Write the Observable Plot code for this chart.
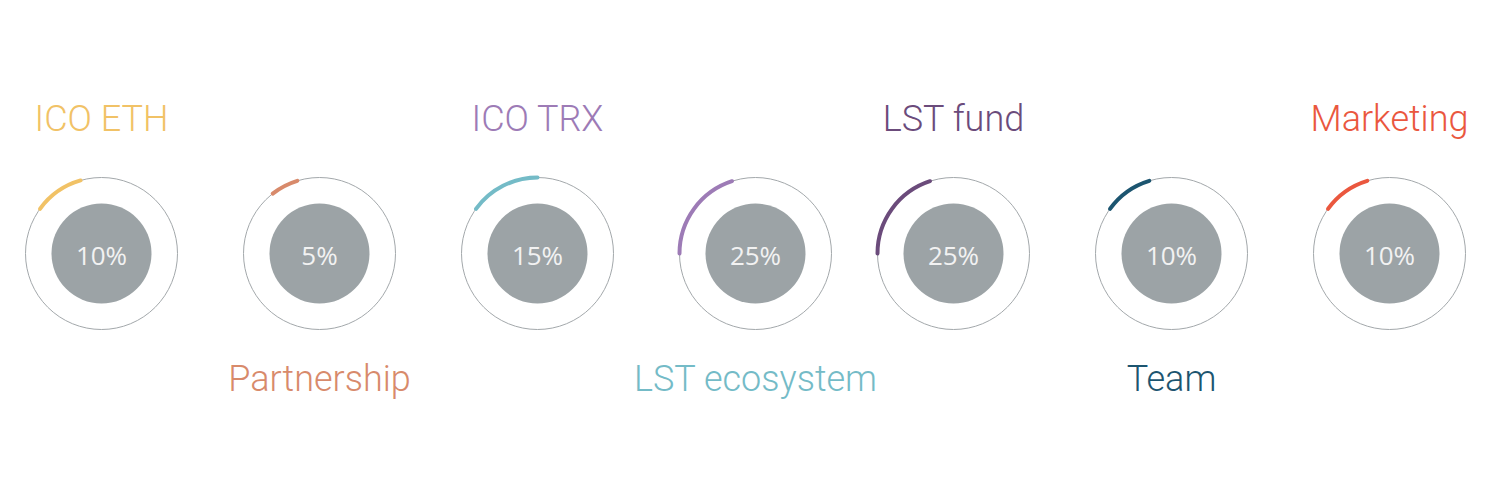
<!DOCTYPE html>
<html>
<head>
<meta charset="utf-8">
<script src="https://cdn.jsdelivr.net/npm/d3@7"></script>
<script src="https://cdn.jsdelivr.net/npm/@observablehq/plot@0.6"></script>
<style>
  html, body { margin: 0; padding: 0; background: #ffffff; }
  #chart { width: 1500px; height: 500px; }
</style>
</head>
<body>
<div id="chart"></div>
<script>
// ---- data ----
const categories = ["ICO ETH", "Partnership", "ICO TRX", "LST ecosystem", "LST fund", "Team", "Marketing"];
const shares = [10, 5, 15, 25, 25, 10, 10];
const labelColors = ["#f1c266", "#d88a6b", "#9d7bb6", "#74bbc7", "#6b4b7b", "#1c5570", "#ea573e"];
const arcColors   = ["#f1c266", "#d88a6b", "#74bbc7", "#9d7bb6", "#6b4b7b", "#1c5570", "#ea573e"];
// arc extents as drawn in the picture (degrees clockwise from 12 o'clock)
const arcStartDeg = [-54, -38, -54, -90, -90, -54, -54];
const arcEndDeg   = [-16, -17, 0, -18, -18, -17, -17];

const rows = categories.map((name, i) => ({
  i, name, share: shares[i], label: shares[i] + "%",
  labelColor: labelColors[i], arcColor: arcColors[i],
  a0: arcStartDeg[i], a1: arcEndDeg[i],
  top: i % 2 === 0
}));

// custom symbol drawing an arc of the dot's radius
function arcSymbol(d0, d1) {
  const a0 = d0 * Math.PI / 180 - Math.PI / 2;
  const a1 = d1 * Math.PI / 180 - Math.PI / 2;
  return {
    draw(ctx, size) {
      const r = Math.sqrt(size / Math.PI);
      ctx.moveTo(r * Math.cos(a0), r * Math.sin(a0));
      ctx.arc(0, 0, r, a0, a1, false);
    }
  };
}

const arcMarks = rows.map(d => Plot.dot([d], {
  x: "i", y: () => 0,
  r: 76,
  symbol: arcSymbol(d.a0, d.a1),
  fill: "none",
  stroke: d.arcColor,
  strokeWidth: 4,
  strokeLinecap: "round"
}));

const chart = Plot.plot({
  width: 1500,
  height: 500,
  margin: 0,
  x: { type: "linear", domain: [0, 3, 4, 6], range: [101, 755, 953, 1389], axis: null },
  y: { domain: [-253, 247], range: [0, 500], axis: null },
  style: { background: "#ffffff" },
  marks: [
    Plot.dot(rows, { x: "i", y: () => 0, r: 76, fill: "none", stroke: "#a3a8ab", strokeWidth: 1 }),
    Plot.dot(rows, { x: "i", y: () => 0, r: 50, fill: "#9ca3a6", stroke: "none" }),
    ...arcMarks,
    Plot.text(rows, {
      x: "i", y: () => 0, text: "label", dy: 3,
      fill: "#f2f2f2", fontSize: 26, fontFamily: "'Open Sans', sans-serif", textAnchor: "middle"
    }),
    Plot.text(rows.filter(d => d.top), {
      x: "i", y: () => 0, text: "name", dy: -134.5,
      fill: "labelColor", fontSize: 36, fontWeight: 300,
      fontFamily: "Roboto, sans-serif", textAnchor: "middle"
    }),
    Plot.text(rows.filter(d => !d.top), {
      x: "i", y: () => 0, text: "name", dy: 125.5,
      fill: "labelColor", fontSize: 36, fontWeight: 300,
      fontFamily: "Roboto, sans-serif", textAnchor: "middle"
    })
  ]
});
document.getElementById("chart").appendChild(chart);
</script>
</body>
</html>
